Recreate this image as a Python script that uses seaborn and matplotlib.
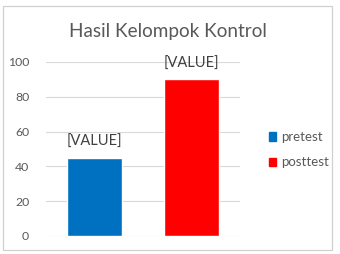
import matplotlib
matplotlib.use("Agg")
import matplotlib.pyplot as plt
import seaborn as sns
import pandas as pd
from matplotlib.patches import Rectangle

categories = ["pretest", "posttest"]
values = [45, 90]
bar_labels = ["[VALUE]", "[VALUE]"]
colors = ["#0070C0", "#FF0000"]
yticks = [0, 20, 40, 60, 80, 100]
title = "Hasil Kelompok Kontrol"

sns.set_style("white")
plt.rcParams["font.family"] = ["Lato", "DejaVu Sans"]

df = pd.DataFrame({"cat": categories, "val": values})

fig = plt.figure(figsize=(3.4, 2.54), dpi=100)
ax = fig.add_axes([0.135, 0.071, 0.571, 0.685])

sns.barplot(data=df, x="cat", y="val", hue="cat", palette=colors,
            width=0.56, saturation=1, legend=True, ax=ax, zorder=3)

ax.set_ylim(0, 100)
ax.set_xlim(-0.5, 1.5)
ax.set_yticks(yticks)
ax.set_yticklabels([str(t) for t in yticks], color="#595959", fontsize=8.8)
ax.set_xticks([])
ax.set_xlabel("")
ax.set_ylabel("")
ax.tick_params(axis="y", length=0, pad=12)
ax.grid(axis="y", color="#D9D9D9", linewidth=0.8, zorder=0)
for s in ax.spines.values():
    s.set_visible(False)

for cont, lab in zip(ax.containers, bar_labels):
    ax.bar_label(cont, labels=[lab], padding=6, color="#404040", fontsize=10.5)

handles = [plt.Rectangle((0, 0), 1, 1, color=c) for c in colors]
ax.legend(handles, categories, loc="center left", bbox_to_anchor=(0.755, 0.41),
          bbox_transform=fig.transFigure, frameon=False, fontsize=9.5,
          handlelength=0.55, handleheight=0.6, handletextpad=0.4,
          labelspacing=1.0, labelcolor="#595959")

fig.text(0.495, 0.875, title, ha="center", va="center", fontsize=13.6, color="#595959")

fig.patches.append(Rectangle((3/340, 1 - 250/254), 329/340, 244/254,
                             transform=fig.transFigure, fill=False,
                             edgecolor="#D0D0D0", linewidth=0.9))

fig.savefig("out.png", dpi=100)
